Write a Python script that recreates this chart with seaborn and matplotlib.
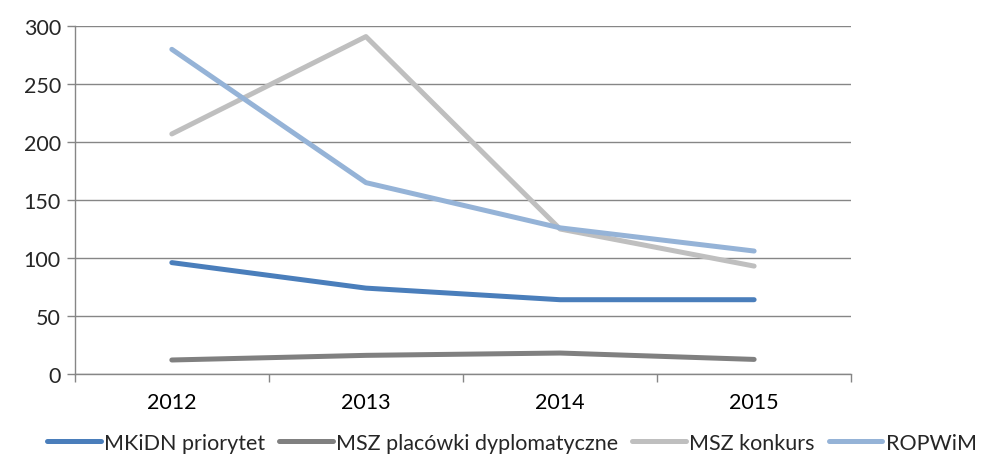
import pandas as pd
import matplotlib.pyplot as plt
import seaborn as sns

# === Data ===
years = ["2012", "2013", "2014", "2015"]
series_names = ["MKiDN priorytet", "MSZ placówki dyplomatyczne", "MSZ konkurs", "ROPWiM"]
mkidn = [96, 74, 64, 64]
msz_placowki = [12, 16, 18, 12.5]
msz_konkurs = [207, 291, 125, 93]
ropwim = [280, 165, 126, 106]
colors = ["#4A7EBB", "#808080", "#BFBFBF", "#95B3D7"]

# === Setup ===
sns.set_theme(style="white")
plt.rcParams["font.family"] = ["Lato", "DejaVu Sans"]

rows = []
for name, vals in zip(series_names, [mkidn, msz_placowki, msz_konkurs, ropwim]):
    for i, v in enumerate(vals):
        rows.append({"pos": i, "value": v, "series": name})
df = pd.DataFrame(rows)

fig = plt.figure(figsize=(9.84, 4.6), dpi=100)
ax = fig.add_axes([0.076, 0.185, 0.789, 0.756])

sns.lineplot(data=df, x="pos", y="value", hue="series", hue_order=series_names,
             palette=colors, linewidth=3.6, ax=ax, legend=False,
             solid_capstyle="round")

# === Axes styling ===
ax.set_xlim(-0.5, 3.5)
ax.set_ylim(0, 300)
ax.set_yticks(range(0, 301, 50))
ax.set_xticks(range(4))
ax.set_xticklabels(years)
ax.set_xticks([-0.5, 0.5, 1.5, 2.5, 3.5], minor=True)
ax.set_xlabel("")
ax.set_ylabel("")
ax.grid(axis="y", color="#868686", linewidth=1)
ax.set_axisbelow(True)
for s in ["top", "right"]:
    ax.spines[s].set_visible(False)
for s in ["left", "bottom"]:
    ax.spines[s].set_color("#868686")
    ax.spines[s].set_linewidth(1)
ax.tick_params(axis="x", which="major", length=0, pad=13, labelsize=15.5, colors="black")
ax.tick_params(axis="x", which="minor", length=6, color="#868686", width=1, bottom=True)
ax.tick_params(axis="y", length=6, color="#868686", width=1, left=True, labelsize=15.5, pad=4)

# === Legend ===
handles = [plt.Line2D([0], [0], color=c, linewidth=3.6, solid_capstyle="round") for c in colors]
fig.legend(handles, series_names, loc="center", bbox_to_anchor=(0.52, 0.035),
           ncol=4, frameon=False, fontsize=15.5, handlelength=2.5,
           handletextpad=0.15, columnspacing=0.65, borderpad=0, borderaxespad=0)

fig.savefig("out.png", dpi=100)
plt.close(fig)
